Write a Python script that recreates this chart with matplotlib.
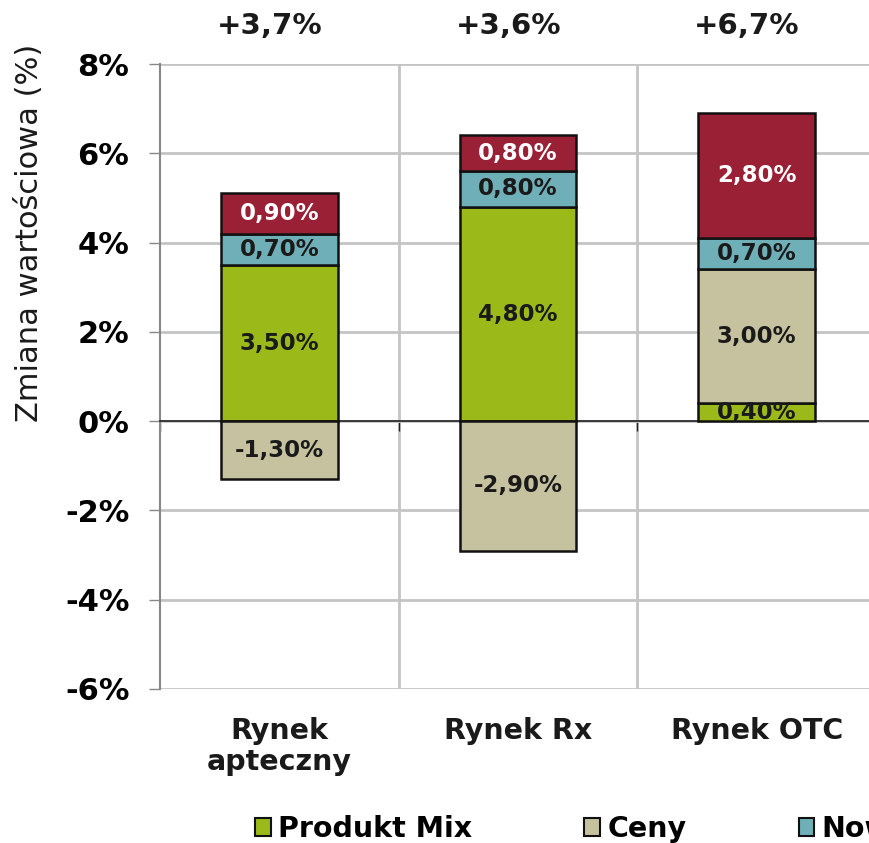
import matplotlib
matplotlib.use("Agg")
import matplotlib.pyplot as plt
from matplotlib.patches import Patch
from matplotlib.transforms import blended_transform_factory
import numpy as np

categories = ["Rynek\napteczny", "Rynek Rx", "Rynek OTC"]
series_names = ["Produkt Mix", "Ceny", "Nowości", "Inne"]
produkt_mix = [3.5, 4.8, 0.4]
ceny = [-1.3, -2.9, 3.0]
nowosci = [0.7, 0.8, 0.7]
inne = [0.9, 0.8, 2.8]
totals = ["+3,7%", "+3,6%", "+6,7%"]
yticks = [-6, -4, -2, 0, 2, 4, 6, 8]

colors = ["#9BBA1A", "#C6C2A0", "#6FAFB8", "#9A2035"]
text_colors = ["#1a1a1a", "#1a1a1a", "#1a1a1a", "white"]

W, H = 869, 843
fig = plt.figure(figsize=(W / 100, H / 100), dpi=100)
ax = fig.add_axes([160 / W, (H - 689) / H, (876 - 160) / W, 625 / H])

x = np.arange(len(categories))
bar_w = 0.49
series = [produkt_mix, ceny, nowosci, inne]
pos_base = np.zeros(len(categories))
neg_base = np.zeros(len(categories))
for vals, col, tcol in zip(series, colors, text_colors):
    vals = np.array(vals, dtype=float)
    bottoms = np.where(vals >= 0, pos_base, neg_base)
    ax.bar(x, vals, bar_w, bottom=bottoms, color=col, edgecolor="#111111",
           linewidth=1.8, zorder=3)
    for xi, b, v in zip(x, bottoms, vals):
        ax.text(xi, b + v / 2, f"{v:.2f}%".replace(".", ","), ha="center",
                va="center", fontsize=16.5, fontweight="bold", color=tcol, zorder=4)
    pos_base = np.where(vals >= 0, pos_base + vals, pos_base)
    neg_base = np.where(vals < 0, neg_base + vals, neg_base)

ax.set_xlim(-0.5, len(categories) - 0.5)
ax.set_ylim(-6, 8)
ax.set_yticks(yticks)
ax.set_yticklabels([f"{t}%" for t in yticks], fontsize=22, fontweight="bold")
ax.tick_params(axis="y", length=8, width=1, color="#888888", pad=14)
ax.yaxis.grid(True, color="#c4c4c4", linewidth=2, zorder=0)

fig.text(30 / W, 1 - 233 / H, "Zmiana wartościowa (%)", rotation=90,
         ha="center", va="center", fontsize=22, color="#1a1a1a")

# vertical gridlines between categories
for b in np.arange(0.5, len(categories) - 0.5, 1.0):
    ax.axvline(b, color="#c4c4c4", linewidth=2, zorder=0)

ax.spines["top"].set_visible(False)
ax.spines["right"].set_visible(False)
ax.spines["left"].set_color("#888888")
ax.spines["left"].set_linewidth(1.5)
ax.spines["bottom"].set_position(("data", 0))
ax.spines["bottom"].set_color("#222222")
ax.spines["bottom"].set_linewidth(1.2)
ax.set_xticks(x)
ax.set_xticklabels([])
ax.tick_params(axis="x", which="major", length=0)
ax.set_xticks(np.arange(-0.5, len(categories) - 0.5, 1.0), minor=True)
ax.tick_params(axis="x", which="minor", length=7, width=1, color="#222222", direction="out")

trans = blended_transform_factory(ax.transData, ax.transAxes)
for xi, lab in zip(x, categories):
    ax.text(xi, -0.045, lab, transform=trans, ha="center", va="top",
            fontsize=20.5, fontweight="bold", linespacing=1.15, color="#1a1a1a")
for xi, t in zip(x, totals):
    ax.text(xi - 0.04, 1.061, t, transform=trans, ha="center", va="center",
            fontsize=21, fontweight="bold", color="#1a1a1a")

handles = [Patch(facecolor=c, edgecolor="#111111", linewidth=1.5) for c in colors]
fig.legend(handles, series_names, loc="center left",
           bbox_to_anchor=(255 / W, (H - 829) / H), ncol=4, frameon=False,
           prop={"size": 20.5, "weight": "bold"}, handlelength=0.55,
           handleheight=0.55, handletextpad=0.25, columnspacing=3.95,
           borderaxespad=0, borderpad=0)

fig.savefig("out.png", dpi=100)
